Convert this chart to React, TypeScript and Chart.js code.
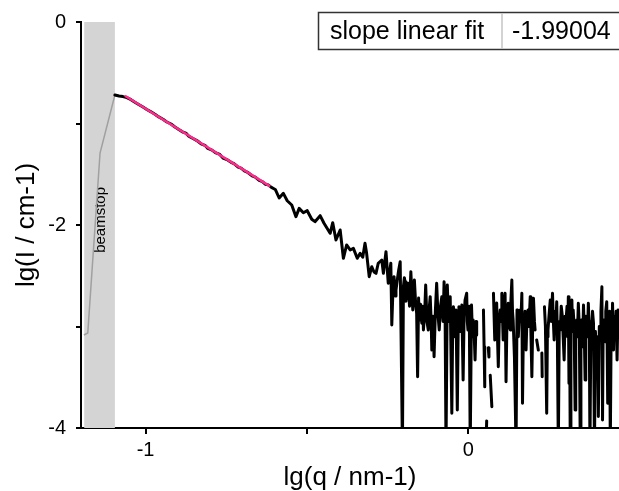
import React, { useEffect, useRef } from "react";
import { Chart, registerables } from "chart.js";

Chart.register(...registerables);

// lg(q / nm-1) and lg(I / cm-1) of the measured curve, in three runs
const smoothQ: number[] = [
  -1.095, -1.082, -1.07, -1.058, -1.045, -1.033, -1.02, -1.008, -0.996, -0.983,
  -0.971, -0.959, -0.946, -0.934, -0.921, -0.909, -0.897, -0.884, -0.875, -0.866,
  -0.853, -0.841, -0.828, -0.816, -0.807, -0.794, -0.782, -0.77, -0.76, -0.748,
  -0.735, -0.726, -0.713, -0.704, -0.692, -0.682, -0.67, -0.66, -0.648, -0.638,
  -0.629, -0.62, -0.61, -0.598,
];
const smoothI: number[] = [
  -0.719, -0.729, -0.735, -0.745, -0.765, -0.79, -0.815, -0.838, -0.862, -0.885,
  -0.908, -0.935, -0.958, -0.985, -1.005, -1.035, -1.06, -1.085, -1.095, -1.125,
  -1.148, -1.168, -1.2, -1.215, -1.245, -1.262, -1.29, -1.305, -1.34, -1.355,
  -1.382, -1.395, -1.43, -1.44, -1.47, -1.485, -1.515, -1.528, -1.56, -1.572,
  -1.598, -1.605, -1.63, -1.65,
];

const midQ: number[] = [
  -0.586, -0.573, -0.561, -0.547, -0.534, -0.524, -0.511, -0.499, -0.485, -0.475,
  -0.459, -0.447, -0.438, -0.428, -0.42, -0.41, -0.397, -0.387, -0.377, -0.366,
  -0.356, -0.344, -0.335, -0.327, -0.32, -0.315, -0.307, -0.299, -0.292, -0.286,
  -0.279, -0.268, -0.263, -0.255, -0.248,
];
const midI: number[] = [
  -1.734, -1.688, -1.761, -1.803, -1.918, -1.836, -1.879, -1.859, -1.944, -1.967,
  -1.908, -1.983, -2.03, -2.082, -1.977, -2.148, -2.049, -2.328, -2.197, -2.246,
  -2.23, -2.328, -2.279, -2.318, -2.18, -2.279, -2.509, -2.411, -2.463, -2.476,
  -2.377, -2.345, -2.476, -2.263, -2.574,
];

const noisyQ: number[] = [
  -0.24, -0.237, -0.233, -0.23, -0.227, -0.224, -0.22, -0.216, -0.211, -0.204,
  -0.201, -0.198, -0.196, -0.193, -0.191, -0.188, -0.186, -0.182, -0.178, -0.175,
  -0.172, -0.169, -0.167, -0.163, -0.16, -0.157, -0.154, -0.152, -0.148, -0.144,
  -0.141, -0.139, -0.135, -0.132, -0.128, -0.124, -0.121, -0.118, -0.115, -0.113,
  -0.109, -0.106, -0.102, -0.098, -0.094, -0.09, -0.086, -0.082, -0.078, -0.075,
  -0.072, -0.069, -0.065, -0.061, -0.058, -0.056, -0.051, -0.048, -0.046, -0.042,
  -0.038, -0.034, -0.031, -0.029, -0.025, -0.02, -0.016, -0.013, -0.01, -0.005,
  -0.003, -0.001, 0.003, 0.006, 0.01, 0.013, 0.015, 0.018, 0.021, 0.024,
  0.026, 0.03, 0.047, 0.049, 0.051, 0.053, 0.054, 0.057, 0.059, 0.062,
  0.064, 0.066, 0.068, 0.073, 0.075, 0.078, 0.08, 0.082, 0.085, 0.088,
  0.09, 0.093, 0.096, 0.099, 0.102, 0.104, 0.106, 0.108, 0.111, 0.114,
  0.117, 0.12, 0.124, 0.127, 0.13, 0.132, 0.135, 0.137, 0.139, 0.143,
  0.148, 0.151, 0.153, 0.155, 0.158, 0.161, 0.163, 0.166, 0.168, 0.171,
  0.173, 0.176, 0.179, 0.182, 0.185, 0.188, 0.192, 0.194, 0.197, 0.2,
  0.202, 0.205, 0.207, 0.21, 0.212, 0.217, 0.22, 0.228, 0.229, 0.232,
  0.236, 0.239, 0.243, 0.245, 0.247, 0.25, 0.254, 0.257, 0.261, 0.263,
  0.266, 0.269, 0.271, 0.274, 0.276, 0.279, 0.282, 0.285, 0.288, 0.291,
  0.294, 0.297, 0.3, 0.303, 0.306, 0.308, 0.31, 0.312, 0.314, 0.316,
  0.318, 0.321, 0.323, 0.325, 0.328, 0.331, 0.333, 0.336, 0.338, 0.341,
  0.344, 0.347, 0.349, 0.351, 0.354, 0.357, 0.359, 0.362, 0.364, 0.367,
  0.369, 0.372, 0.375, 0.377, 0.38, 0.382, 0.385, 0.388, 0.391, 0.394,
  0.396, 0.398, 0.401, 0.403, 0.406, 0.409, 0.411, 0.414, 0.416, 0.418,
  0.421, 0.424, 0.426, 0.429, 0.432, 0.434, 0.436, 0.438, 0.44, 0.443,
  0.445, 0.447, 0.45, 0.452, 0.455, 0.458, 0.461, 0.464, 0.467, 0.47,
];
// null = negative intensity (no logarithm), which leaves a gap
const noisyI: (number | null)[] = [
  -2.377, -2.985, -2.6, -2.509, -2.7, -2.64, -2.542, -2.45, -2.362, -4.2,
  -2.608, -2.52, -2.559, -2.75, -2.673, -2.61, -2.574, -2.8, -2.46, -2.66,
  -2.837, -2.6, -2.542, -2.78, -2.87, -3.495, -2.72, -2.936, -2.78, -2.968,
  -2.8, -3.034, -2.86, -2.591, -2.95, -3.034, -2.82, -2.706, -2.95, -3.232,
  -2.9, -3.298, -2.85, -2.574, -2.88, -3.034, -2.8, -2.706, -2.95, -2.559,
  -2.8, -4.2, -2.591, -2.95, -2.75, -2.706, -3.855, -2.9, -2.805, -3.1,
  -2.837, -3.823, -2.95, -2.805, -3.05, -2.788, -3.527, -2.9, -2.739, -2.673,
  -2.95, -3.034, -2.8, -4.2, -2.788, -3.1, -2.936, -3.05, -3.33, -2.95,
  -3.084, null, -2.837, -3.2, -3.593, null, -4.3, -3.93, null, -3.21,
  -3.3, null, -3.48, -3.79, null, -2.673, -2.9, -3.133, -2.85, -2.768,
  -3.05, -3.396, -2.95, -2.837, -2.95, -2.673, -2.9, -3.133, -2.8, -2.673,
  -3.544, -2.9, -2.771, -3.0, -3.034, -2.75, -2.542, -2.85, -2.936, -3.3,
  -4.2, -2.837, -2.95, -3.101, -2.9, -2.837, -2.95, -2.673, -3.757, -2.95,
  -3.034, -2.85, -3.232, -2.9, -2.837, -3.0, -2.706, -3.05, -3.495, -2.9,
  -2.722, -2.95, -3.034, null, -3.133, -3.232, null, -3.261, -3.495, null,
  -2.805, -3.0, -3.855, -3.1, -3.034, -2.9, -2.739, -2.95, -2.673, -2.9,
  -3.133, -2.85, -3.05, -2.756, -3.1, -4.2, -2.95, -3.034, -2.8, -2.887,
  -3.1, -3.33, -2.9, -2.936, -2.8, -3.1, -2.706, -3.558, -3.0, -4.2,
  -2.95, -2.739, -3.05, -2.837, -3.0, -3.823, -3.0, -2.936, -3.1, -2.771,
  -3.0, -4.2, -3.05, -2.936, -3.2, -2.788, -3.0, -3.527, -2.9, -2.936,
  -3.1, -2.771, -3.05, -4.2, -2.95, -3.034, -2.85, -2.968, -4.2, -3.05,
  -3.33, -3.429, -3.1, -3.887, -3.0, -3.034, -2.85, -2.608, -3.921, -3.0,
  -2.936, -3.15, -2.85, -2.756, -3.757, -2.95, -3.034, -2.85, -4.2, -2.9,
  -3.1, -2.771, -3.232, -2.9, -3.067, -2.85, -3.33, -2.837, -3.05, -3.133,
];

// points hidden behind the beamstop
const beamQ: number[] = [-1.191, -1.179, -1.141, -1.095];
const beamI: number[] = [-3.084, -3.064, -1.291, -0.719];

// linear fit line
const fitQ: number[] = [-1.064, -0.614];
const fitI: number[] = [-0.726, -1.62];

const beamstopRange: number[] = [-1.19, -1.095];
const beamstopLabel = "beamstop";
const beamstopLabelY = -1.95;

const xTicks: number[] = [-1, -0.5, 0];
const xLabeled: number[] = [-1, 0];
const yTicks: number[] = [-4, -3, -2, -1, 0];
const yLabeled: number[] = [-4, -2, 0];

const xTitle = "lg(q / nm-1)";
const yTitle = "lg(I / cm-1)";
const fitLabel = "slope linear fit";
const fitSlope = "-1.99004";

const FONT = "'Liberation Sans', Arial, sans-serif";

const pts = (xs: number[], ys: (number | null)[]) => xs.map((x, i) => ({ x, y: ys[i] }));

const beamstopPlugin = {
  id: "beamstopBox",
  beforeDatasetsDraw(chart: any) {
    const { ctx, chartArea, scales } = chart;
    const x0 = scales.x.getPixelForValue(beamstopRange[0]);
    const x1 = scales.x.getPixelForValue(beamstopRange[1]);
    ctx.save();
    ctx.fillStyle = "#d4d4d4";
    ctx.fillRect(x0, chartArea.top, x1 - x0, chartArea.bottom - chartArea.top);
    ctx.translate((x0 + x1) / 2 + 1, scales.y.getPixelForValue(beamstopLabelY));
    ctx.rotate(-Math.PI / 2);
    ctx.fillStyle = "#000";
    ctx.font = `15px ${FONT}`;
    ctx.textAlign = "center";
    ctx.textBaseline = "middle";
    ctx.fillText(beamstopLabel, 0, 0);
    ctx.restore();
  },
};

const tablePlugin = {
  id: "fitTable",
  afterDraw(chart: any) {
    const { ctx } = chart;
    ctx.save();
    ctx.fillStyle = "#fff";
    ctx.fillRect(318, 12, 320, 38);
    ctx.strokeStyle = "#333";
    ctx.lineWidth = 1.5;
    ctx.strokeRect(318.5, 12.5, 320, 37);
    ctx.strokeStyle = "#c4c4c4";
    ctx.beginPath();
    ctx.moveTo(502, 13);
    ctx.lineTo(502, 49);
    ctx.stroke();
    ctx.fillStyle = "#000";
    ctx.font = `25px ${FONT}`;
    ctx.textBaseline = "middle";
    ctx.textAlign = "left";
    ctx.fillText(fitLabel, 330, 32);
    ctx.fillText(fitSlope, 512, 32);
    ctx.restore();
  },
};

export default function App() {
  const ref = useRef<HTMLCanvasElement | null>(null);

  useEffect(() => {
    document.body.style.margin = "0";
    const canvas = ref.current;
    if (!canvas) return;
    const measured = [
      ...pts(smoothQ, smoothI),
      ...pts(midQ, midI),
      ...pts(noisyQ, noisyI),
    ];
    const chart = new Chart(canvas, {
      type: "line",
      data: {
        datasets: [
          {
            label: "fit",
            data: pts(fitQ, fitI),
            borderColor: "#ff2a8c",
            borderWidth: 2.5,
            pointRadius: 0,
            tension: 0,
            order: 0,
          },
          {
            label: "data",
            data: measured,
            borderColor: "#000",
            borderWidth: 3,
            pointRadius: 0,
            tension: 0,
            spanGaps: false,
            borderJoinStyle: "round",
            borderCapStyle: "round",
            order: 1,
          },
          {
            label: "beamstop data",
            data: pts(beamQ, beamI),
            borderColor: "#a0a0a0",
            borderWidth: 1.5,
            pointRadius: 0,
            tension: 0,
            order: 2,
          },
        ] as any,
      },
      options: {
        animation: false,
        responsive: false,
        devicePixelRatio: 1,
        layout: { padding: { top: 22, right: 0, left: 0, bottom: 0 } },
        plugins: { legend: { display: false }, tooltip: { enabled: false } },
        scales: {
          x: {
            type: "linear",
            min: -1.2,
            max: 0.467,
            afterFit: (s: any) => {
              s.height = 63;
            },
            afterBuildTicks: (s: any) => {
              s.ticks = xTicks.map((v) => ({ value: v }));
            },
            ticks: {
              color: "#000",
              font: { family: FONT, size: 20 },
              padding: 4,
              maxRotation: 0,
              callback: (v: any) => (xLabeled.includes(Number(v)) ? String(v) : ""),
            },
            grid: { drawOnChartArea: false, drawTicks: true, tickLength: 6, color: "#000", lineWidth: 2 },
            border: { display: true, color: "#000", width: 2 },
            title: {
              display: true,
              text: xTitle,
              color: "#000",
              font: { family: FONT, size: 26, lineHeight: 1 },
              padding: { top: 0, bottom: 0 },
            },
          },
          y: {
            type: "linear",
            min: -4,
            max: 0,
            afterFit: (s: any) => {
              s.width = 81;
            },
            afterBuildTicks: (s: any) => {
              s.ticks = yTicks.map((v) => ({ value: v }));
            },
            ticks: {
              color: "#000",
              font: { family: FONT, size: 20 },
              padding: 10,
              callback: (v: any) => (yLabeled.includes(Number(v)) ? String(v) : ""),
            },
            grid: { drawOnChartArea: false, drawTicks: true, tickLength: 5, color: "#000", lineWidth: 2 },
            border: { display: true, color: "#000", width: 2 },
            title: {
              display: true,
              text: yTitle,
              color: "#000",
              font: { family: FONT, size: 26, lineHeight: 1 },
              padding: { top: 14, bottom: 0 },
            },
          },
        },
      } as any,
      plugins: [beamstopPlugin, tablePlugin],
    });
    return () => chart.destroy();
  }, []);

  return (
    <div style={{ position: "absolute", left: 0, top: 0, width: 619, height: 491, background: "#fff" }}>
      <canvas ref={ref} width={619} height={491} style={{ display: "block" }} />
    </div>
  );
}
